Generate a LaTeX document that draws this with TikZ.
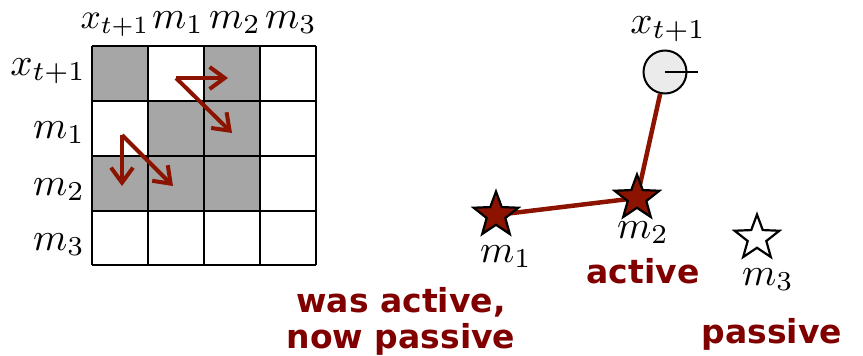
\documentclass[tikz,border=0pt]{standalone}
\usepackage{fontspec}
\newfontfamily\labfont{DejaVu Sans}
\usetikzlibrary{shapes.geometric,arrows.meta,backgrounds}
\definecolor{dred}{HTML}{8B1300}
\definecolor{tred}{HTML}{800000}
\definecolor{cellgray}{HTML}{A6A6A6}
\definecolor{circfill}{HTML}{EBEBEB}
\newcommand{\bmlab}[1]{\scalebox{3.9}{$#1$}}
\newcommand{\smlab}[1]{\scalebox{3.55}{$#1$}}
\begin{document}
\begin{tikzpicture}[x=1pt,y=-1pt,
  mathlab/.style={inner sep=0pt},
  boldlab/.style={font=\labfont\bfseries\fontsize{33}{36}\selectfont, text=tred, inner sep=0pt, align=center},
  gridline/.style={line width=1.3pt, black},
  shade/.style={fill=cellgray},
  marrow/.style={line width=4pt, dred, -{Straight Barb[length=15pt,width=22pt,line width=4pt]}},
  starnode/.style={star, star points=5, star point ratio=2.4, minimum size=47pt, inner sep=0pt, draw=black, line width=2.2pt},
  conn/.style={line width=4.5pt, dred},
]
\useasboundingbox (0,0) rectangle (863,356);
% shaded cells
\fill[shade] (92,46) rectangle (148,101);
\fill[shade] (204,46) rectangle (260,101);
\fill[shade] (148,101) rectangle (260,156);
\fill[shade] (92,156) rectangle (260,211);
% grid
\foreach \xx in {92,148,204,260,316} \draw[gridline] (\xx,46) -- (\xx,265);
\foreach \yy in {46,101,156,211,265} \draw[gridline] (92,\yy) -- (316,\yy);
% column headers
\node[mathlab, anchor=base] (hx) at (115,28) {\smlab{x_{t+1}}};
\node[mathlab, anchor=base] (h1) at (178,28) {\bmlab{m_1}};
\node[mathlab, anchor=base] (h2) at (235,28) {\bmlab{m_2}};
\node[mathlab, anchor=base] (h3) at (291,28) {\bmlab{m_3}};
% row headers
\node[mathlab, anchor=base east] (rx) at (86,75) {\bmlab{x_{t+1}}};
\node[mathlab, anchor=base east] (r1) at (85,138) {\bmlab{m_1}};
\node[mathlab, anchor=base east] (r2) at (85,195) {\bmlab{m_2}};
\node[mathlab, anchor=base east] (r3) at (85,250) {\bmlab{m_3}};
% arrows in matrix
\coordinate (a1s) at (176,78);
\coordinate (a1r) at (228,78);
\coordinate (a1d) at (232,133);
\coordinate (a2s) at (122,135);
\coordinate (a2d) at (122,186);
\coordinate (a2r) at (173,186);
\draw[marrow] (a1s) -- (a1r);
\draw[marrow] (a1s) -- (a1d);
\draw[marrow] (a2s) -- (a2d);
\draw[marrow] (a2s) -- (a2r);
% right diagram
\node[circle, draw=black, line width=2pt, fill=circfill, minimum size=43pt, inner sep=0pt] (x) at (665,72) {};
\coordinate (xr) at (698,72);
\draw[line width=2pt] (x.center) -- (xr);
\node[mathlab, anchor=base] (xl) at (668,33) {\bmlab{x_{t+1}}};
\node[starnode, fill=dred] (m1) at (496,215) {};
\node[starnode, fill=dred] (m2) at (637,198) {};
\node[starnode, fill=white] (m3) at (757,238) {};
\begin{scope}[on background layer]
\draw[conn] (m1.center) -- (m2.center);
\draw[conn] (m2.center) -- (x);
\end{scope}
\node[mathlab, anchor=base] (l1) at (506,262) {\bmlab{m_1}};
\node[mathlab, anchor=base] (l2) at (643,238) {\bmlab{m_2}};
\node[mathlab, anchor=base] (l3) at (768,285) {\bmlab{m_3}};
\node[boldlab, anchor=base] (act) at (643,283) {active};
\node[boldlab, anchor=base] (pas) at (772,343) {passive};
\node[boldlab, anchor=base] (was) at (401,312) {was active,};
\node[boldlab, anchor=base] (now) at (401,348) {now passive};
\end{tikzpicture}
\end{document}
